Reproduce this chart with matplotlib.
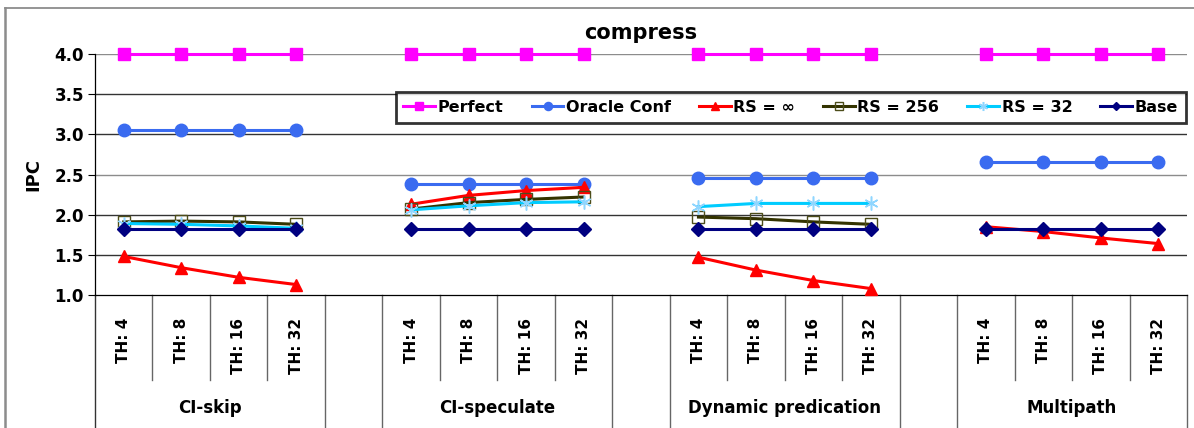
import numpy as np
import matplotlib
matplotlib.use('Agg')
import matplotlib.pyplot as plt
from matplotlib.lines import Line2D
import matplotlib.transforms as mtransforms

plt.rcParams['font.family'] = ['DejaVu Sans']
plt.rcParams['font.weight'] = 'bold'

groups = ['CI-skip', 'CI-speculate', 'Dynamic predication', 'Multipath']
thresholds = ['TH: 4', 'TH: 8', 'TH: 16', 'TH: 32']

# IPC per threshold, four groups back to back
perfect = [4.0, 4.0, 4.0, 4.0, 4.0, 4.0, 4.0, 4.0,
           4.0, 4.0, 4.0, 4.0, 4.0, 4.0, 4.0, 4.0]
oracle = [3.05, 3.05, 3.05, 3.05, 2.38, 2.38, 2.38, 2.38,
          2.46, 2.46, 2.46, 2.46, 2.66, 2.66, 2.66, 2.66]
rs_inf = [1.48, 1.34, 1.22, 1.13, 2.13, 2.24, 2.30, 2.34,
          1.47, 1.31, 1.18, 1.08, 1.85, 1.79, 1.71, 1.64]
rs_256 = [1.91, 1.92, 1.91, 1.88, 2.07, 2.15, 2.19, 2.22,
          1.97, 1.95, 1.91, 1.88, np.nan, np.nan, np.nan, np.nan]
rs_32 = [1.89, 1.88, 1.86, 1.83, 2.06, 2.11, 2.15, 2.16,
         2.10, 2.14, 2.14, 2.14, np.nan, np.nan, np.nan, np.nan]
base = [1.82, 1.82, 1.82, 1.82, 1.82, 1.82, 1.82, 1.82,
        1.82, 1.82, 1.82, 1.82, 1.82, 1.82, 1.82, 1.82]

n_slots = len(groups) * 5 - 1


def spread(vals):
    # put each group on its own four slots, leaving one empty slot between groups
    out = np.full(n_slots, np.nan)
    for g in range(len(groups)):
        for t in range(len(thresholds)):
            out[g * 5 + t] = vals[g * 4 + t]
    return out


x = np.arange(n_slots)

W, H = 1194, 428
fig = plt.figure(figsize=(W / 100, H / 100), dpi=100)
ax = fig.add_axes([95 / W, 1 - 295 / H, (1187 - 95) / W, (295 - 54) / H])

series = [
    ('Perfect', perfect, dict(color='#FF00FF', marker='s', ms=8.5, mfc='#FF00FF', mec='#FF00FF')),
    ('Oracle Conf', oracle, dict(color='#3A6BF0', marker='o', ms=9, mfc='#3A6BF0', mec='#3A6BF0')),
    ('RS = \u221e', rs_inf, dict(color='#FF0000', marker='^', ms=8.5, mfc='#FF0000', mec='#FF0000')),
    ('RS = 256', rs_256, dict(color='#333300', marker='s', ms=8, mfc='none', mec='#4D4D1A', mew=1.0)),
    ('RS = 32', rs_32, dict(color='#00CCFF', marker=(6, 2, 0), ms=10, mec='#8FD6FF', mew=1.1)),
    ('Base', base, dict(color='#000080', marker='D', ms=7, mfc='#000080', mec='#000080')),
]

for label, vals, st in series:
    ax.plot(x, spread(vals), lw=2.2, label=label, zorder=3, clip_on=False, **st)

ax.set_xlim(-0.5, n_slots - 0.5)
ax.set_ylim(1.0, 4.0)
yt = np.arange(1.0, 4.01, 0.5)
ax.set_yticks(yt)
ax.set_yticklabels(['%.1f' % v for v in yt], fontsize=12, fontweight='bold')
ax.tick_params(axis='y', direction='out', length=5, width=0.8, pad=3)
ax.set_xticks([])
for yv in yt[1:]:
    gc = '#8C8C8C' if yv in (2.5, 4.0) else '#333333'
    ax.axhline(yv, color=gc, lw=1.0, zorder=1)

for s in ['top', 'right']:
    ax.spines[s].set_visible(False)
ax.spines['left'].set_linewidth(0.9)
ax.spines['bottom'].set_linewidth(0.9)

ax.set_ylabel('IPC', fontsize=13, fontweight='bold', labelpad=9)
ax.set_title('compress', fontsize=15, fontweight='bold', pad=11)

# category table under the axis
trans = mtransforms.blended_transform_factory(ax.transData, ax.transAxes)
y_short = (295 - 380) / 241
y_full = (295 - 430) / 241
for g in range(len(groups)):
    start = g * 5
    for t in range(len(thresholds)):
        ax.text(start + t, -0.095, thresholds[t], rotation=90, ha='center', va='top',
                fontsize=11, fontweight='bold', transform=trans)
    for t in range(1, len(thresholds)):
        ax.plot([start + t - 0.5] * 2, [0, y_short], color='#666666', lw=1.0,
                transform=trans, clip_on=False)
    ax.text(start + 1.5, -0.469, groups[g], ha='center', va='center',
            fontsize=12, fontweight='bold', transform=trans)
    for bx in (start - 0.5, start + 3.5):
        ax.plot([bx] * 2, [0, y_full], color='#333333' if bx == -0.5 else '#666666',
                lw=1.0, transform=trans, clip_on=False)

leg = ax.legend(loc='upper right', bbox_to_anchor=(0.999, 0.842), borderaxespad=0,
                ncol=6, frameon=True, fancybox=False, handlelength=2.0,
                handletextpad=0.15, columnspacing=1.75, borderpad=0.5,
                markerscale=0.65, prop={'weight': 'bold', 'size': 11.5})
leg.get_frame().set_edgecolor('black')
leg.get_frame().set_linewidth(2.0)

# outer chart frame
fig.add_artist(Line2D([5 / W, 1.0], [1 - 8 / H, 1 - 8 / H], color='#8C8C8C', lw=1.3))
fig.add_artist(Line2D([5 / W, 5 / W], [0, 1 - 8 / H], color='#8C8C8C', lw=1.8))

fig.savefig('out.png', dpi=100)
